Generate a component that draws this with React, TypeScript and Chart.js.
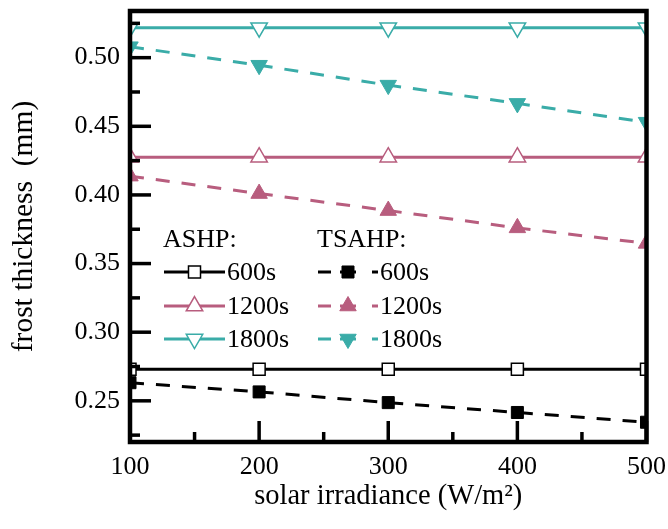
import React, { useEffect, useRef } from 'react';
import { Chart, registerables } from 'chart.js';

Chart.register(...registerables);

// ---- data ----
const irradiance = [100, 200, 300, 400, 500];
const ashp600 = [0.273, 0.273, 0.273, 0.273, 0.273];
const ashp1200 = [0.4275, 0.4275, 0.4275, 0.4275, 0.4275];
const ashp1800 = [0.5218, 0.5218, 0.5218, 0.5218, 0.5218];
const tsahp600 = [0.2632, 0.2565, 0.2487, 0.2415, 0.2344];
const tsahp1200 = [0.4137, 0.401, 0.3886, 0.376, 0.3647];
const tsahp1800 = [0.508, 0.4945, 0.48, 0.4667, 0.453];

const xMajorTicks = [100, 200, 300, 400, 500];
const xMinorTicks = [150, 250, 350, 450];
const yMajorTicks = [0.25, 0.3, 0.35, 0.4, 0.45, 0.5];
const yMinorTicks = [0.225, 0.275, 0.325, 0.375, 0.425, 0.475, 0.525];

const legendHeaders = ['ASHP:', 'TSAHP:'];
const durations = ['600s', '1200s', '1800s'];

const xTitle = 'solar irradiance (W/m\u00B2)';
const yTitle = 'frost thickness  (mm)';

// ---- styles ----
const BLACK = '#000000';
const PINK = '#b85d7e';
const TEAL = '#3aaca8';
const FONT = "'Liberation Serif', 'DejaVu Serif', serif";

const colors = [BLACK, PINK, TEAL];
const shapes: Array<[string, number]> = [
  ['rect', 0],
  ['triangle', 0],
  ['triangle', 180],
];

function pts(vals: number[]) {
  return irradiance.map((x, i) => ({ x, y: vals[i] }));
}

function drawMarker(
  ctx: CanvasRenderingContext2D,
  style: string,
  rotation: number,
  x: number,
  y: number,
  r: number,
  fill: string,
  stroke: string,
  lw: number
) {
  ctx.save();
  ctx.beginPath();
  if (style === 'rect') {
    const s = Math.SQRT1_2 * r;
    ctx.rect(x - s, y - s, 2 * s, 2 * s);
  } else {
    let rad = (rotation * Math.PI) / 180;
    ctx.moveTo(x + Math.sin(rad) * r, y - Math.cos(rad) * r);
    rad += (2 * Math.PI) / 3;
    ctx.lineTo(x + Math.sin(rad) * r, y - Math.cos(rad) * r);
    rad += (2 * Math.PI) / 3;
    ctx.lineTo(x + Math.sin(rad) * r, y - Math.cos(rad) * r);
    ctx.closePath();
  }
  ctx.fillStyle = fill;
  ctx.fill();
  ctx.lineWidth = lw;
  ctx.strokeStyle = stroke;
  ctx.stroke();
  ctx.restore();
}

const framePlugin = {
  id: 'frameTicks',
  afterDraw(chart: any) {
    const { ctx, chartArea: ca, scales } = chart;
    const xs = scales.x;
    const ys = scales.y;
    ctx.save();
    ctx.strokeStyle = BLACK;
    ctx.lineCap = 'butt';
    const seg = (x1: number, y1: number, x2: number, y2: number) => {
      ctx.beginPath();
      ctx.moveTo(x1, y1);
      ctx.lineTo(x2, y2);
      ctx.stroke();
    };
    ctx.lineWidth = 3.5;
    yMajorTicks.forEach((v) => {
      const p = ys.getPixelForValue(v);
      seg(ca.left, p, ca.left + 21, p);
    });
    yMinorTicks.forEach((v) => {
      const p = ys.getPixelForValue(v);
      seg(ca.left, p, ca.left + 10, p);
    });
    xMajorTicks.forEach((v) => {
      const p = xs.getPixelForValue(v);
      seg(p, ca.bottom, p, ca.bottom - 21);
    });
    xMinorTicks.forEach((v) => {
      const p = xs.getPixelForValue(v);
      seg(p, ca.bottom, p, ca.bottom - 10);
    });
    ctx.lineWidth = 4.5;
    ctx.strokeRect(ca.left, ca.top, ca.right - ca.left, ca.bottom - ca.top);
    ctx.restore();
  },
};

const legendPlugin = {
  id: 'customLegend',
  afterDraw(chart: any) {
    const { ctx } = chart;
    ctx.save();
    ctx.font = `26px ${FONT}`;
    ctx.fillStyle = BLACK;
    ctx.textAlign = 'left';
    ctx.textBaseline = 'alphabetic';
    ctx.fillText(legendHeaders[0], 163, 247);
    ctx.fillText(legendHeaders[1], 317, 247);
    const rows = [272, 306, 339];
    rows.forEach((ry, i) => {
      const c = colors[i];
      const [style, rot] = shapes[i];
      const r = style === 'rect' ? 8.5 : 9.5;
      // ASHP: solid line + open marker
      ctx.strokeStyle = c;
      ctx.lineWidth = 3;
      ctx.setLineDash([]);
      ctx.beginPath();
      ctx.moveTo(164, ry);
      ctx.lineTo(225, ry);
      ctx.stroke();
      drawMarker(ctx, style, rot, 194.5, ry, r, '#ffffff', c, 1.5);
      // TSAHP: dashed line + filled marker
      ctx.strokeStyle = c;
      ctx.lineWidth = 3;
      ctx.beginPath();
      ctx.moveTo(318, ry);
      ctx.lineTo(331, ry);
      ctx.moveTo(340, ry);
      ctx.lineTo(356, ry);
      ctx.moveTo(372, ry);
      ctx.lineTo(378, ry);
      ctx.stroke();
      drawMarker(ctx, style, rot, 348, ry, r, c, c, 1);
      ctx.fillStyle = BLACK;
      ctx.textBaseline = 'middle';
      ctx.fillText(durations[i], 227, ry + 1);
      ctx.fillText(durations[i], 380, ry + 1);
      ctx.textBaseline = 'alphabetic';
    });
    ctx.restore();
  },
};

export default function App() {
  const canvasRef = useRef<HTMLCanvasElement | null>(null);

  useEffect(() => {
    document.body.style.margin = '0';
    const canvas = canvasRef.current;
    if (!canvas) return;

    const mk = (
      label: string,
      vals: number[],
      idx: number,
      dashed: boolean
    ) => {
      const c = colors[idx];
      const [style, rot] = shapes[idx];
      return {
        label,
        data: pts(vals),
        borderColor: c,
        borderWidth: 3,
        borderDash: dashed ? [14, 12] : [],
        pointStyle: style,
        pointRotation: rot,
        pointRadius: style === 'rect' ? 8.5 : 9.5,
        pointBackgroundColor: dashed ? c : '#ffffff',
        pointBorderColor: c,
        pointBorderWidth: dashed ? 1 : 1.5,
        fill: false,
        tension: 0,
        clip: 0,
      };
    };

    const chart = new Chart(canvas, {
      type: 'line',
      data: {
        datasets: [
          mk('ASHP 600s', ashp600, 0, false),
          mk('ASHP 1200s', ashp1200, 1, false),
          mk('ASHP 1800s', ashp1800, 2, false),
          mk('TSAHP 600s', tsahp600, 0, true),
          mk('TSAHP 1200s', tsahp1200, 1, true),
          mk('TSAHP 1800s', tsahp1800, 2, true),
        ] as any,
      },
      options: {
        responsive: false,
        animation: false,
        devicePixelRatio: 1,
        layout: { padding: { left: 0, right: 21.5, top: 6, bottom: 0 } },
        plugins: {
          legend: { display: false },
          tooltip: { enabled: false },
        },
        scales: {
          x: {
            type: 'linear',
            min: 100,
            max: 500,
            grid: { display: false, drawTicks: false },
            border: { display: false },
            ticks: {
              stepSize: 100,
              padding: 10,
              color: BLACK,
              font: { family: FONT, size: 26 },
              maxRotation: 0,
            },
            title: {
              display: true,
              text: xTitle,
              color: BLACK,
              font: { family: FONT, size: 28.5 },
              padding: { top: 0, bottom: 15 },
            },
            afterFit: (s: any) => {
              s.height = 87;
              s.paddingLeft = 0;
              s.paddingRight = 0;
            },
          },
          y: {
            type: 'linear',
            min: 0.22,
            max: 0.534,
            grid: { display: false, drawTicks: false },
            border: { display: false },
            ticks: {
              stepSize: 0.05,
              includeBounds: false,
              padding: 10,
              color: BLACK,
              font: { family: FONT, size: 26 },
              callback: (v: any) => Number(v).toFixed(2),
            },
            title: {
              display: true,
              text: yTitle,
              color: BLACK,
              font: { family: FONT, size: 29.5 },
              padding: { top: 7, bottom: 0 },
            },
            afterFit: (s: any) => {
              s.width = 130;
              s.paddingTop = 0;
              s.paddingBottom = 0;
            },
          },
        },
      } as any,
      plugins: [framePlugin, legendPlugin],
    });

    return () => chart.destroy();
  }, []);

  return (
    <div style={{ position: 'absolute', left: 0, top: 0, width: 668, height: 529 }}>
      <canvas ref={canvasRef} width={668} height={529} />
    </div>
  );
}
